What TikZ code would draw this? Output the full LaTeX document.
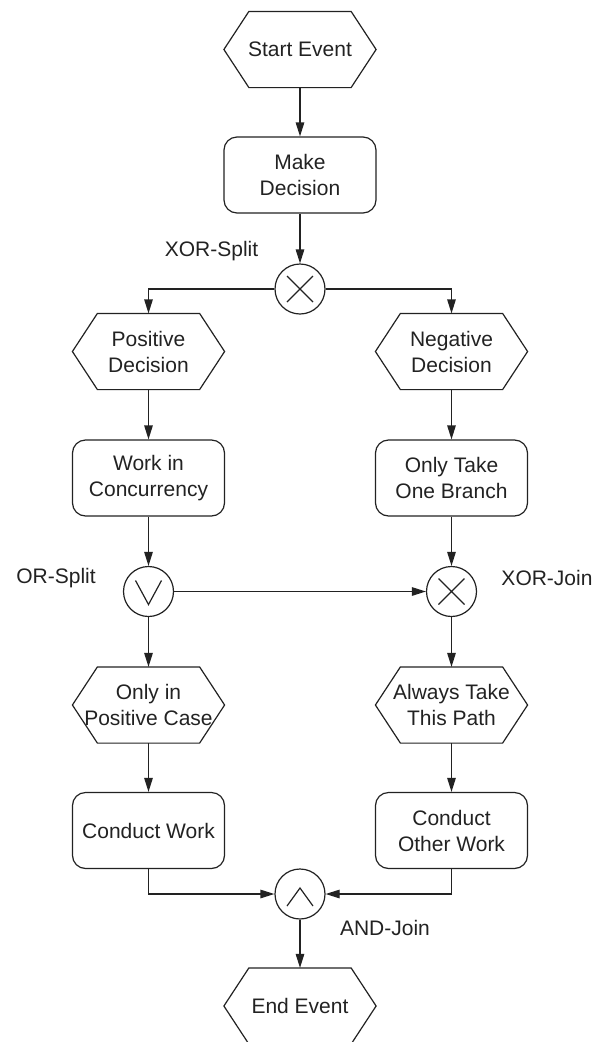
\documentclass[tikz,border=0pt]{standalone}
\usepackage{fontspec}
\setmainfont{Liberation Sans}
\usetikzlibrary{arrows.meta}
\definecolor{inkC}{HTML}{222222}
\newcommand\diagfont{\fontsize{21}{26}\selectfont}
\begin{document}
\begin{tikzpicture}[x=1pt,y=-1pt,line width=1.2pt,draw=inkC,text=inkC,
  box/.style={draw,rounded corners=13pt,minimum width=152pt,minimum height=76pt,align=center,inner sep=0pt,font=\diagfont},
  evt/.style={minimum width=151pt,minimum height=75pt,align=center,inner sep=0pt,font=\diagfont},
  gate/.style={draw,circle,minimum size=50pt,inner sep=0pt},
  lbl/.style={font=\diagfont,inner sep=0pt},
  arr/.style={-{Triangle[length=14pt,width=8.5pt]}}]
\useasboundingbox (0,0) rectangle (603,1042);
% nodes
\node[evt] (start) at (300,49.5) {Start Event};
\node[box] (make) at (300,175) {Make\\Decision};
\node[gate] (xs) at (300,289) {};
\node[evt] (pos) at (148.5,351.5) {Positive\\Decision};
\node[evt] (neg) at (451.5,351.5) {Negative\\Decision};
\node[box] (wic) at (148.5,478) {Work in\\Concurrency};
\node[box] (otb) at (451.5,478) {Only Take\\One Branch};
\node[gate] (ors) at (148.5,591.5) {};
\node[gate] (xj) at (451.5,591.5) {};
\node[evt] (opc) at (148.5,705) {Only in\\Positive Case};
\node[evt] (atp) at (451.5,705) {Always Take\\This Path};
\node[box] (cw) at (148.5,830.5) {Conduct Work};
\node[box] (cow) at (451.5,830.5) {Conduct\\Other Work};
\node[gate] (aj) at (300,894) {};
\node[evt] (end) at (300,1006) {End Event};
% labels
\node[lbl] (lxs) at (211.5,251) {XOR-Split};
\node[lbl] (lors) at (56,578) {OR-Split};
\node[lbl] (lxj) at (547,578) {XOR-Join};
\node[lbl] (laj) at (385,928) {AND-Join};
% hexagons
\foreach \n in {start,pos,neg,opc,atp,end}{
  \draw ([xshift=25pt]\n.north west) -- ([xshift=-25pt]\n.north east) -- (\n.east)
    -- ([xshift=-25pt]\n.south east) -- ([xshift=25pt]\n.south west) -- (\n.west) -- cycle;
}
% gate symbols
\draw ([shift={(-13,-13)}]xs.center) -- ([shift={(13,13)}]xs.center)
      ([shift={(-13,13)}]xs.center) -- ([shift={(13,-13)}]xs.center);
\draw ([shift={(-13,-13)}]xj.center) -- ([shift={(13,13)}]xj.center)
      ([shift={(-13,13)}]xj.center) -- ([shift={(13,-13)}]xj.center);
\draw ([shift={(-13,-11)}]ors.center) -- ([shift={(0,13)}]ors.center) -- ([shift={(13,-11)}]ors.center);
\draw ([shift={(-13,12)}]aj.center) -- ([shift={(0,-6)}]aj.center) -- ([shift={(13,12)}]aj.center);
% connectors
\draw[arr] (start) -- (make);
\draw[arr] (make) -- (xs);
\draw[arr] (xs.west) -| (pos.north);
\draw[arr] (xs.east) -| (neg.north);
\draw[arr] (pos) -- (wic);
\draw[arr] (neg) -- (otb);
\draw[arr] (wic) -- (ors);
\draw[arr] (otb) -- (xj);
\draw[arr] (ors) -- (xj);
\draw[arr] (ors) -- (opc);
\draw[arr] (xj) -- (atp);
\draw[arr] (opc) -- (cw);
\draw[arr] (atp) -- (cow);
\draw[arr] (cw.south) |- (aj.west);
\draw[arr] (cow.south) |- (aj.east);
\draw[arr] (aj) -- (end);
\end{tikzpicture}
\end{document}
